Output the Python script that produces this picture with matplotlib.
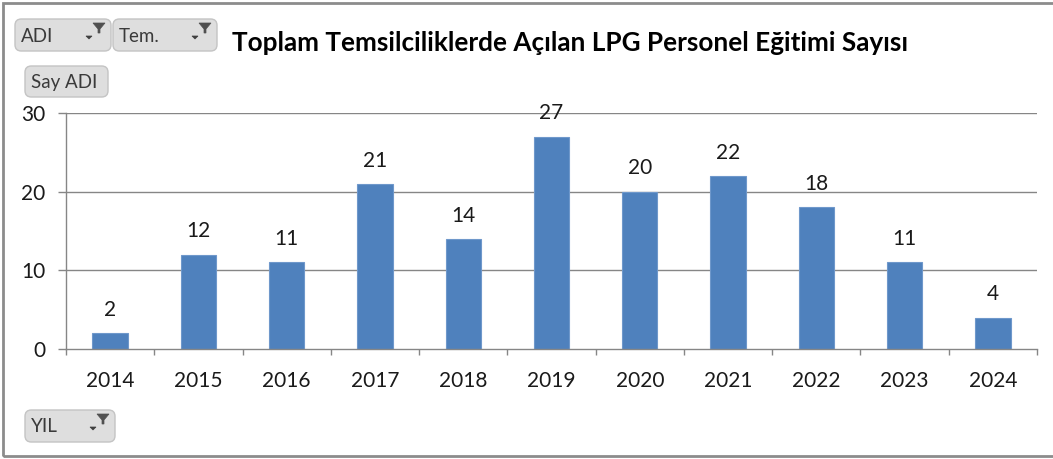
import matplotlib
matplotlib.use("Agg")
import matplotlib.pyplot as plt
from matplotlib.patches import FancyBboxPatch, Rectangle, Polygon

plt.rcParams['font.family'] = ['Lato', 'DejaVu Sans']

years = ['2014', '2015', '2016', '2017', '2018', '2019', '2020', '2021', '2022', '2023', '2024']
counts = [2, 12, 11, 21, 14, 27, 20, 22, 18, 11, 4]
title = 'Toplam Temsilciliklerde Açılan LPG Personel Eğitimi Sayısı'
yticks = [0, 10, 20, 30]

W, H = 1053, 459
fig = plt.figure(figsize=(W / 100, H / 100), dpi=100)
fig.patch.set_facecolor('white')

def fx(px):
    return px / W

def fy(py):
    return 1 - py / H

ax = fig.add_axes([fx(66), fy(349), fx(1037 - 66), (349 - 113) / H])
x = list(range(len(years)))
ax.bar(x, counts, width=0.4, color='#4F81BD', edgecolor='#6F98CB', linewidth=0.8, zorder=3)
for xi, v in zip(x, counts):
    ax.annotate(str(v), (xi, v), xytext=(0, 9.5), textcoords='offset points',
                ha='center', va='bottom', fontsize=15, color='#1a1a1a', zorder=5)

ax.set_xlim(-0.5, len(years) - 0.5)
ax.set_ylim(0, 30)
ax.set_yticks(yticks)
ax.set_yticklabels([str(t) for t in yticks])
ax.set_xticks(x)
ax.set_xticklabels(years)
ax.set_xticks([i - 0.5 for i in range(len(years) + 1)], minor=True)
ax.tick_params(axis='x', which='major', length=0, pad=16, labelsize=15, labelcolor='#1a1a1a')
ax.tick_params(axis='x', which='minor', length=4, width=1, color='#868686', direction='out')
ax.tick_params(axis='y', length=6, width=1, color='#868686', pad=9, labelsize=15, labelcolor='#1a1a1a')
for s in ['top', 'right']:
    ax.spines[s].set_visible(False)
for s in ['left', 'bottom']:
    ax.spines[s].set_color('#868686')
    ax.spines[s].set_linewidth(1)
    ax.spines[s].set_zorder(4)
for t in yticks[1:]:
    ax.axhline(t, color='#868686', linewidth=1, zorder=1)

fig.text(fx(570), fy(43), title, ha='center', va='center', fontsize=18.8,
         fontweight='bold', color='#000000')

# outer frame
fig.add_artist(Rectangle((fx(3), fy(456)), fx(1053), (456 - 3) / H, transform=fig.transFigure,
                         fill=False, edgecolor='#8c8c8c', linewidth=2))

def button(x0, y0, x1, y1, label, icon=True):
    p = FancyBboxPatch((fx(x0), fy(y1)), fx(x1 - x0), (y1 - y0) / H,
                       boxstyle='round,pad=0,rounding_size=0.006',
                       transform=fig.transFigure, facecolor='#DEDEDE',
                       edgecolor='#C4C4C4', linewidth=1, mutation_aspect=W / H)
    fig.add_artist(p)
    fig.text(fx(x0 + 6), fy((y0 + y1) / 2 + 1), label, ha='left', va='center',
             fontsize=13.5, color='#3a3a3a')
    if icon:
        # funnel
        cx, cy = x1 - 12, y0 + 9
        fig.add_artist(Polygon([(fx(cx - 6), fy(cy - 5)), (fx(cx + 6), fy(cy - 5)),
                                (fx(cx + 1), fy(cy + 1)), (fx(cx + 1), fy(cy + 5)),
                                (fx(cx - 1), fy(cy + 5)), (fx(cx - 1), fy(cy + 1))],
                               closed=True, transform=fig.transFigure,
                               facecolor='#505050', edgecolor='#505050', linewidth=0.5))
        # small down arrow
        ax0, ay0 = x1 - 22, y0 + 17
        fig.add_artist(Polygon([(fx(ax0 - 3), fy(ay0)), (fx(ax0 + 3), fy(ay0)),
                                (fx(ax0), fy(ay0 + 3))], closed=True,
                               transform=fig.transFigure,
                               facecolor='#404040', edgecolor='#404040', linewidth=0.5))

button(15, 19, 111, 51, 'ADI')
button(113, 19, 217, 51, 'Tem.')
button(25, 66, 108, 97, 'Say ADI', icon=False)
button(25, 410, 115, 442, 'YIL')

fig.savefig('out.png', dpi=100)
